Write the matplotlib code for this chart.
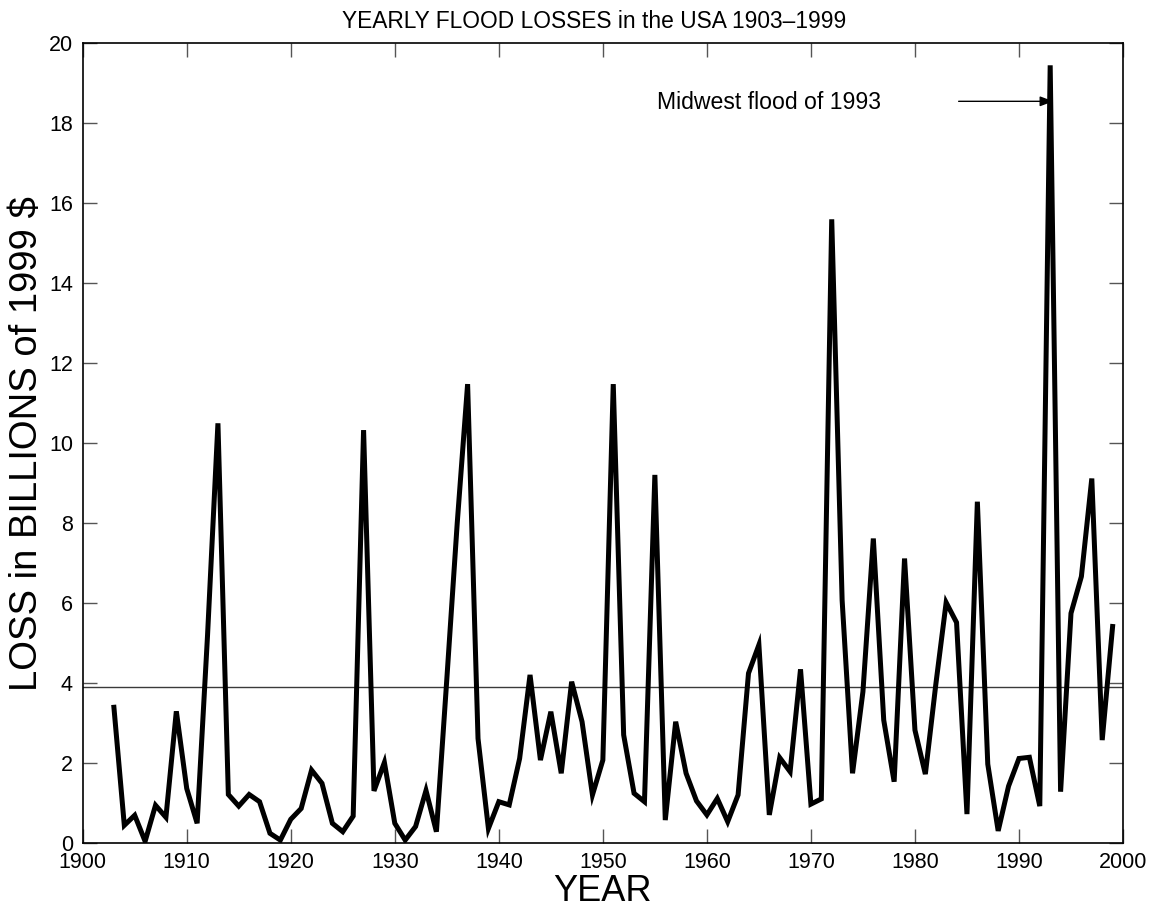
import matplotlib
matplotlib.use("Agg")
import matplotlib.pyplot as plt
import numpy as np

plt.rcParams['font.family'] = ['Liberation Sans', 'DejaVu Sans']

years = list(range(1903, 2000))
losses = [
    3.4, 0.45, 0.7, 0.05, 0.95, 0.65, 3.3, 1.37, 0.5, 5.2,      # 1903-1912
    10.5, 1.22, 0.93, 1.22, 1.04, 0.25, 0.08, 0.6, 0.87, 1.83,  # 1913-1922
    1.5, 0.5, 0.29, 0.68, 10.33, 1.31, 2.02, 0.5, 0.08, 0.42,   # 1923-1932
    1.32, 0.29, 4.1, 8.0, 11.48, 2.62, 0.37, 1.04, 0.96, 2.12,  # 1933-1942
    4.21, 2.08, 3.29, 1.75, 4.04, 3.04, 1.21, 2.08, 11.48, 2.71,  # 1943-1952
    1.25, 1.04, 9.21, 0.58, 3.04, 1.75, 1.06, 0.71, 1.12, 0.54,  # 1953-1962
    1.21, 4.25, 4.96, 0.71, 2.14, 1.79, 4.35, 0.98, 1.11, 15.6,  # 1963-1972
    6.08, 1.75, 3.79, 7.62, 3.08, 1.54, 7.12, 2.83, 1.73, 3.96,  # 1973-1982
    6.02, 5.52, 0.73, 8.54, 1.98, 0.31, 1.43, 2.12, 2.15, 0.93,  # 1983-1992
    19.45, 1.29, 5.75, 6.67, 9.12, 2.58, 5.42                    # 1993-1999
]
mean_loss = 3.9

xticks = list(range(1900, 2001, 10))
yticks = list(range(0, 21, 2))

title = "YEARLY FLOOD LOSSES in the USA 1903\u20131999"
xlabel = "YEAR"
ylabel = "LOSS in BILLIONS of 1999 $"
note = "Midwest flood of 1993"

fig = plt.figure(figsize=(11.55, 9.10), dpi=100)
ax = fig.add_axes([0.0716, 0.0733, 0.9007, 0.8791])

ax.plot(years, losses, color='black', lw=3.6, solid_joinstyle='miter', zorder=3)
ax.axhline(mean_loss, color='#3a3a3a', lw=1.0, zorder=2)

ax.set_xlim(1900, 2000)
ax.set_ylim(0, 20)
ax.set_xticks(xticks)
ax.set_yticks(yticks)
ax.tick_params(direction='in', length=10, width=1, color='#555555',
               top=True, right=True, labelsize=15.5, pad=6)
ax.tick_params(axis='y', pad=7)
for s in ax.spines.values():
    s.set_linewidth(1.2)
    s.set_color('black')

ax.set_xlabel(xlabel, fontsize=26, labelpad=1)
ax.set_ylabel(ylabel, fontsize=27.5, labelpad=3)
fig.text(0.5147, 1 - 28 / 910, title, ha='center', va='baseline', fontsize=16.4)

ax.text(1955.2, 18.36, note, ha='left', va='baseline', fontsize=16.6)
ax.annotate('', xy=(1993.3, 18.55), xytext=(1984.2, 18.55),
            arrowprops=dict(arrowstyle='-|>,head_length=0.8,head_width=0.3',
                            color='black', lw=1.0, shrinkA=0, shrinkB=0),
            zorder=5)

fig.savefig('out.png', dpi=100)
